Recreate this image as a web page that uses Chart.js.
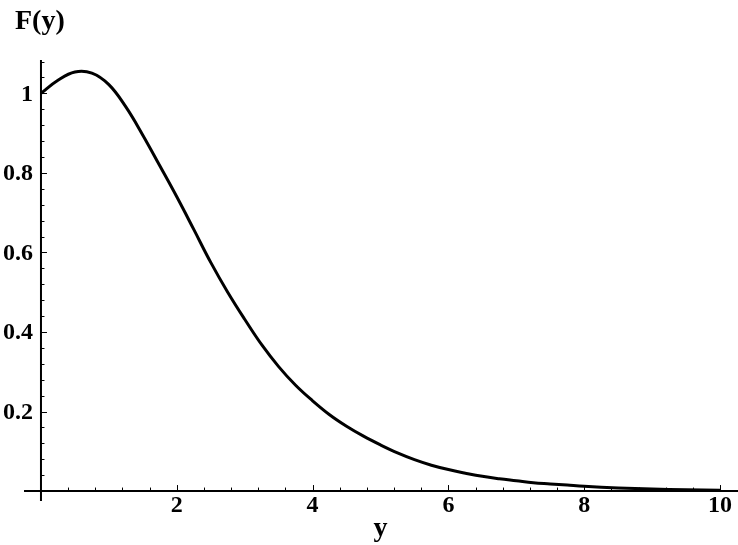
<!DOCTYPE html>
<html>
<head>
<meta charset="utf-8">
<script src="https://cdn.jsdelivr.net/npm/chart.js@4.4.0/dist/chart.umd.min.js"></script>
<style>
  html, body { margin: 0; padding: 0; background: #fff; }
  #wrap { width: 738px; height: 545px; }
</style>
</head>
<body>
<div id="wrap"><canvas id="plot"></canvas></div>
<script>
// values
const yPoints = [0, 0.25, 0.5, 0.75, 1, 1.25, 1.5, 1.75, 2, 2.25, 2.5, 2.75, 3, 3.25, 3.5, 3.75, 4,
                 4.25, 4.5, 4.75, 5, 5.25, 5.5, 5.75, 6, 6.25, 6.5, 6.75, 7, 7.25, 7.5, 7.75, 8,
                 8.5, 9, 9.5, 10];
const fValues = [1.0, 1.033, 1.054, 1.051, 1.022, 0.966, 0.895, 0.818, 0.740, 0.658, 0.575, 0.500, 0.432,
                 0.368, 0.313, 0.266, 0.227, 0.192, 0.163, 0.138, 0.116, 0.096, 0.079, 0.065, 0.054,
                 0.045, 0.037, 0.031, 0.026, 0.021, 0.018, 0.015, 0.012, 0.008, 0.005, 0.003, 0.002];

const xMajorTicks = [2, 4, 6, 8, 10];
const xTickLabels = ['2', '4', '6', '8', '10'];
const yMajorTicks = [0.2, 0.4, 0.6, 0.8, 1];
const yTickLabels = ['0.2', '0.4', '0.6', '0.8', '1'];

const xTitle = 'y';
const yTitle = 'F(y)';

const tickFont = 'bold 24px "Liberation Serif", "Times New Roman", serif';
const titleFont = 'bold 28px "Liberation Serif", "Times New Roman", serif';

// Mathematica style axes crossing at the origin, ticks pointing inward
const axesPlugin = {
    id: 'mmaAxes',
    beforeDatasetsDraw(chart) {
        const { ctx, chartArea, scales: { x, y } } = chart;
        const x0 = x.getPixelForValue(0);
        const y0 = y.getPixelForValue(0);
        ctx.save();
        ctx.strokeStyle = '#000';
        ctx.lineWidth = 2;
        ctx.beginPath();
        ctx.moveTo(chartArea.left, y0);
        ctx.lineTo(chartArea.right, y0);
        ctx.moveTo(x0, chartArea.top);
        ctx.lineTo(x0, chartArea.bottom);
        ctx.stroke();

        ctx.lineWidth = 1;
        ctx.beginPath();
        for (let i = 1; i <= 25; i++) {
            const px = Math.round(x.getPixelForValue(i * 0.4)) + 0.5;
            const len = i % 5 === 0 ? 6 : 3.5;
            ctx.moveTo(px, y0);
            ctx.lineTo(px, y0 - len);
        }
        for (let i = 1; i <= 27; i++) {
            const py = Math.round(y.getPixelForValue(i * 0.04)) + 0.5;
            const len = i % 5 === 0 ? 6 : 3.5;
            ctx.moveTo(x0, py);
            ctx.lineTo(x0 + len, py);
        }
        ctx.stroke();
        ctx.restore();
    },
    afterDraw(chart) {
        const { ctx, scales: { x, y } } = chart;
        const x0 = x.getPixelForValue(0);
        const y0 = y.getPixelForValue(0);
        ctx.save();
        ctx.fillStyle = '#000';
        ctx.font = tickFont;
        ctx.textBaseline = 'alphabetic';

        ctx.textAlign = 'center';
        xMajorTicks.forEach((v, i) => {
            ctx.fillText(xTickLabels[i], x.getPixelForValue(v), y0 + 21);
        });

        ctx.textAlign = 'right';
        yMajorTicks.forEach((v, i) => {
            ctx.fillText(yTickLabels[i], x0 - 8, y.getPixelForValue(v) + 7.5);
        });

        ctx.font = titleFont;
        ctx.textAlign = 'center';
        ctx.fillText(xTitle, x.getPixelForValue(5), 536);
        ctx.textAlign = 'left';
        ctx.fillText(yTitle, 15, 28.5);
        ctx.restore();
    }
};

new Chart(document.getElementById('plot'), {
    type: 'line',
    data: {
        datasets: [{
            data: yPoints.map((v, i) => ({ x: v, y: fValues[i] })),
            borderColor: '#000',
            borderWidth: 3,
            pointRadius: 0,
            fill: false,
            tension: 0.4
        }]
    },
    options: {
        responsive: true,
        maintainAspectRatio: false,
        animation: false,
        layout: { padding: { left: 24, right: 0, top: 60, bottom: 44 } },
        plugins: { legend: { display: false }, tooltip: { enabled: false } },
        scales: {
            x: { type: 'linear', min: -0.25, max: 10.265, display: false },
            y: { type: 'linear', min: -0.025, max: 1.084, display: false }
        }
    },
    plugins: [axesPlugin]
});
</script>
</body>
</html>
